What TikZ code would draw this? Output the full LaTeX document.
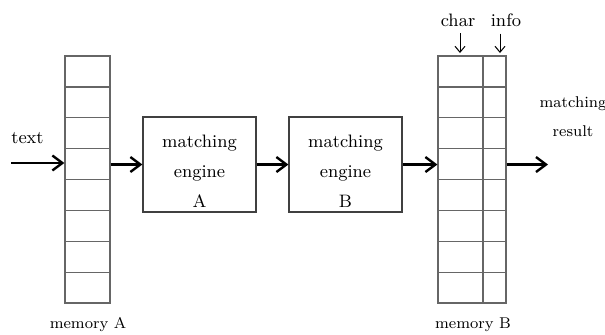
\documentclass[tikz,border=0pt]{standalone}
\usepackage{tikz}
\usetikzlibrary{arrows.meta}

\begin{document}
\begin{tikzpicture}
  [x=0.5pt,y=-0.5pt,every node/.style={font=\fontsize{9}{15}\selectfont},
   memcol/.style={draw=black!60,line width=0.6pt,minimum height=123.5pt,inner sep=0pt},
   engine/.style={draw=black!75,line width=0.6pt,minimum width=56.5pt,minimum height=47.5pt},
   enginetext/.style={align=center,yshift=-3.5pt},
   caption/.style={font=\fontsize{7.8}{14.5}\selectfont,align=center},
   bigarrow/.style={-{Straight Barb[length=5pt,width=7.5pt]},line width=1.2pt},
   smallarrow/.style={-{Straight Barb[length=3pt,width=5pt]},line width=0.5pt}]
  \useasboundingbox (0,0) rectangle (605,334);
  % memories
  \node[memcol,minimum width=22.5pt] (memA) at (87.5,179.5) {};
  \node[memcol,minimum width=34pt] (memB) at (472,179.5) {};
  \foreach \i in {1,...,7}{
    \draw[black!60,line width=0.6pt] (65,{56+\i*30.9}) -- (110,{56+\i*30.9});
    \draw[black!60,line width=0.6pt] (438,{56+\i*30.9}) -- (506,{56+\i*30.9});
  }
  \draw[black!60,line width=0.6pt] (memB.north -| 483,0) -- (memB.south -| 483,0);
  % engines
  \node[engine,label={[enginetext]center:matching\\engine\\A}] (engA) at (199.5,164.5) {};
  \node[engine,label={[enginetext]center:matching\\engine\\B}] (engB) at (345.5,164.5) {};
  % labels
  \node (text) at (27.5,138) {text};
  \node (char) at (458,20) {char};
  \node (info) at (506,20) {info};
  \node[caption] (result) at (573,117) {matching\\result};
  \node[caption] (capA) at (88,325) {memory A};
  \node[caption] (capB) at (473,325) {memory B};
  \coordinate (in) at (11,163);
  \coordinate (out) at (548,164.5);
  \coordinate (infotip) at (500,53);
  % arrows
  \draw[bigarrow] (in) -- (memA.west |- in);
  \draw[bigarrow] (memA.east |- engA) -- (engA.west);
  \draw[bigarrow] (engA.east) -- (engB.west);
  \draw[bigarrow] (engB.east) -- (memB.west |- engB);
  \draw[bigarrow] (memB.east |- engB) -- (out);
  \draw[smallarrow] (char.south -| 460,0) -- (460,53);
  \draw[smallarrow] (info.south -| infotip) -- (infotip);
\end{tikzpicture}
\end{document}
